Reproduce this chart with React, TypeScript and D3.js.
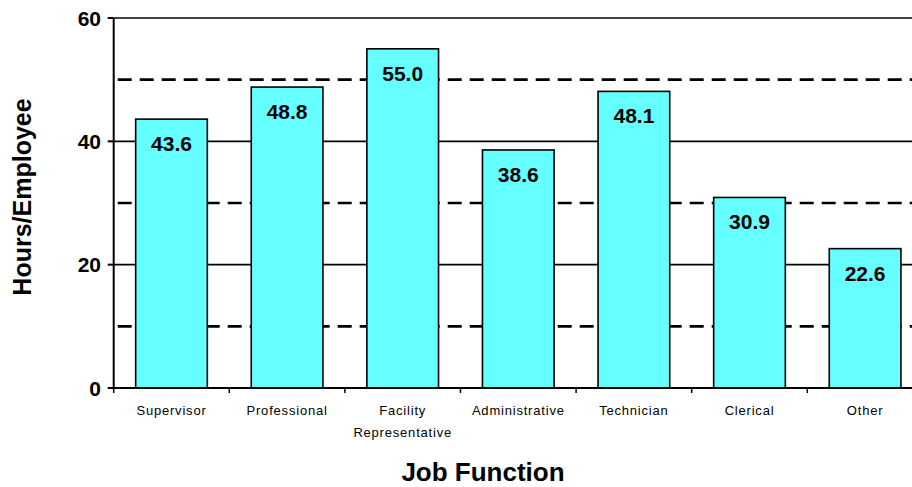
import React from 'react'
import * as d3 from 'd3'

const categories = ['Supervisor', 'Professional', 'Facility Representative', 'Administrative', 'Technician', 'Clerical', 'Other']
const categoryLines = [['Supervisor'], ['Professional'], ['Facility', 'Representative'], ['Administrative'], ['Technician'], ['Clerical'], ['Other']]
const hours = [43.6, 48.8, 55.0, 38.6, 48.1, 30.9, 22.6]
const majorTicks = [0, 20, 40, 60]
const dashedTicks = [10, 30, 50]

const W = 912
const H = 487
const font = '"Liberation Sans", Arial, sans-serif'

const App: React.FC = () => {
  const left = 113.7
  const step = 115.6
  const x = d3
    .scaleBand<string>()
    .domain(categories)
    .range([left, left + step * categories.length])
    .paddingInner(0.38)
    .paddingOuter(0.19)
  const y = d3.scaleLinear().domain([0, 60]).range([388, 18])

  return (
    <svg width={W} height={H} style={{ position: 'absolute', left: 0, top: 0, background: '#fff' }}>
      {/* gridlines */}
      {majorTicks.filter((t) => t > 0).map((t) => (
        <line key={'g' + t} x1={left} x2={W} y1={y(t)} y2={y(t)} stroke="#000" strokeWidth={1.6} />
      ))}
      {dashedTicks.map((t) => (
        <line key={'d' + t} x1={left + 4} x2={W} y1={y(t)} y2={y(t)} stroke="#000" strokeWidth={2.6} strokeDasharray="14 8" />
      ))}
      {/* bars */}
      {hours.map((v, i) => (
        <g key={categories[i]}>
          <rect
            x={x(categories[i])}
            y={y(v)}
            width={x.bandwidth()}
            height={y(0) - y(v)}
            fill="#66ffff"
            stroke="#000"
            strokeWidth={1.6}
          />
          <text
            x={(x(categories[i]) as number) + x.bandwidth() / 2}
            y={y(v) + 32}
            textAnchor="middle"
            fontFamily={font}
            fontWeight="bold"
            fontSize={21}
          >
            {v.toFixed(1)}
          </text>
        </g>
      ))}
      {/* y axis */}
      <line x1={left} x2={left} y1={y(60)} y2={y(0)} stroke="#000" strokeWidth={2} />
      {majorTicks.map((t) => (
        <g key={'t' + t}>
          <line x1={left - 6} x2={left} y1={y(t)} y2={y(t)} stroke="#000" strokeWidth={2} />
          <text x={101} y={y(t) + 7.5} textAnchor="end" fontFamily={font} fontWeight="bold" fontSize={21}>
            {t}
          </text>
        </g>
      ))}
      {/* x axis */}
      <line x1={left} x2={W} y1={y(0)} y2={y(0)} stroke="#000" strokeWidth={2.2} />
      {categories.map((c, i) => (
        <line key={'xt' + i} x1={left + step * i} x2={left + step * i} y1={y(0)} y2={y(0) + 5} stroke="#000" strokeWidth={1.5} />
      ))}
      {categoryLines.map((lines, i) => (
        <text
          key={'xl' + i}
          x={(x(categories[i]) as number) + x.bandwidth() / 2}
          y={415}
          textAnchor="middle"
          fontFamily={font}
          fontSize={13}
          letterSpacing={0.8}
        >
          {lines.map((l, j) => (
            <tspan key={j} x={(x(categories[i]) as number) + x.bandwidth() / 2} dy={j === 0 ? 0 : 22}>
              {l}
            </tspan>
          ))}
        </text>
      ))}
      {/* titles */}
      <text x={483} y={481} textAnchor="middle" fontFamily={font} fontWeight="bold" fontSize={26}>
        Job Function
      </text>
      <text
        transform={`translate(31,${197}) rotate(-90)`}
        textAnchor="middle"
        fontFamily={font}
        fontWeight="bold"
        fontSize={25}
      >
        Hours/Employee
      </text>
    </svg>
  )
}

export default App
